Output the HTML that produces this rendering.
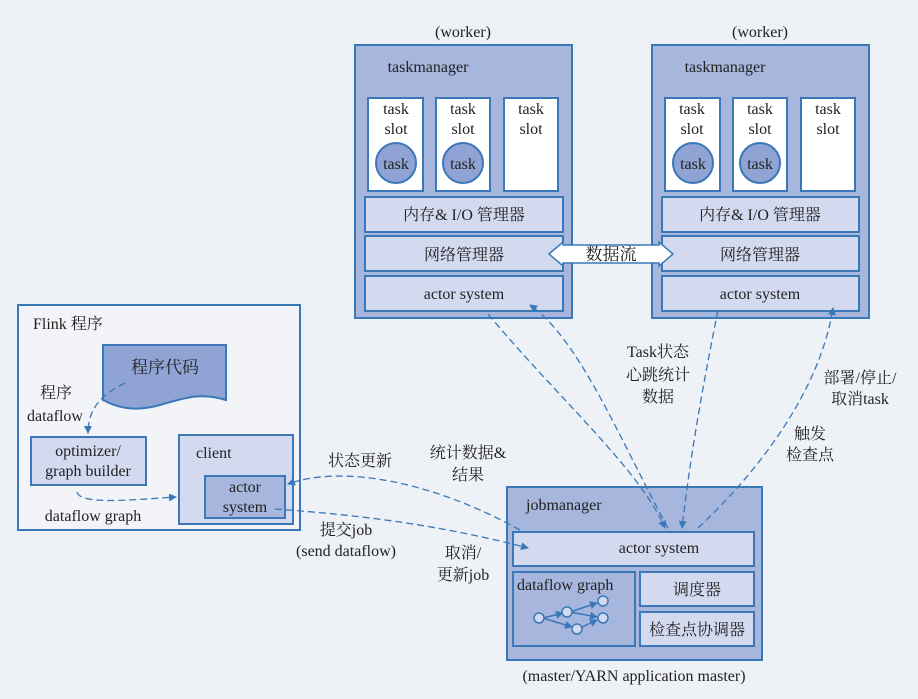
<!DOCTYPE html>
<html><head><meta charset="utf-8"><style>
html,body{margin:0;padding:0;background:#eef1f5;}
text{font-family:"Liberation Serif","Noto Serif CJK SC",serif;fill:#222;}
</style></head><body>
<svg width="918" height="694" viewBox="0 0 918 694" xmlns="http://www.w3.org/2000/svg">
<defs>
<marker id="a" markerWidth="8" markerHeight="8" refX="7" refY="4" orient="auto" markerUnits="userSpaceOnUse"><path d="M0,0 L8,4 L0,8 z" fill="#3a78b8"/></marker>
</defs>
<rect width="918" height="694" fill="#eef1f5"/>
<g stroke="#3a78b8" stroke-width="2">
<rect x="355" y="45" width="217" height="273" fill="#a6b6dc"/>
<rect x="368" y="98" width="55" height="93" fill="#fff"/>
<rect x="436" y="98" width="54" height="93" fill="#fff"/>
<rect x="504" y="98" width="54" height="93" fill="#fff"/>
<circle cx="396" cy="163" r="20" fill="#8fa3d4"/>
<circle cx="463" cy="163" r="20" fill="#8fa3d4"/>
<rect x="365" y="197" width="198" height="35" fill="#d3daf0"/>
<rect x="365" y="236" width="198" height="35" fill="#d3daf0"/>
<rect x="365" y="276" width="198" height="35" fill="#d3daf0"/>
<rect x="652" y="45" width="217" height="273" fill="#a6b6dc"/>
<rect x="665" y="98" width="55" height="93" fill="#fff"/>
<rect x="733" y="98" width="54" height="93" fill="#fff"/>
<rect x="801" y="98" width="54" height="93" fill="#fff"/>
<circle cx="693" cy="163" r="20" fill="#8fa3d4"/>
<circle cx="760" cy="163" r="20" fill="#8fa3d4"/>
<rect x="662" y="197" width="197" height="35" fill="#d3daf0"/>
<rect x="662" y="236" width="197" height="35" fill="#d3daf0"/>
<rect x="662" y="276" width="197" height="35" fill="#d3daf0"/>
<rect x="18" y="305" width="282" height="225" fill="#f2f4f8"/>
<path d="M103,345 H226 V400 C200,392 185,398 160,405 C135,412 118,408 103,400 Z" fill="#8fa3d4"/>
<rect x="31" y="437" width="115" height="48" fill="#d3daf0"/>
<rect x="179" y="435" width="114" height="89" fill="#d3daf0"/>
<rect x="205" y="476" width="80" height="42" fill="#a6b6dc"/>
<rect x="507" y="487" width="255" height="173" fill="#a6b6dc"/>
<rect x="513" y="532" width="241" height="34" fill="#d3daf0"/>
<rect x="513" y="572" width="122" height="74" fill="#a6b6dc"/>
<rect x="640" y="572" width="114" height="34" fill="#d3daf0"/>
<rect x="640" y="612" width="114" height="34" fill="#d3daf0"/>
</g>
<path d="M549,254 L563,242 V245 H659 V242 L673,254 L659,266 V263 H563 V266 Z" fill="#fff" stroke="#3a78b8" stroke-width="1.5"/>
<g stroke="#3a78b8" stroke-width="1.5" fill="#d3daf0">
<line x1="543" y1="618" x2="563" y2="613" marker-end="url(#a)"/>
<line x1="543" y1="618" x2="572" y2="627" marker-end="url(#a)"/>
<line x1="570" y1="612" x2="597" y2="603" marker-end="url(#a)"/>
<line x1="570" y1="612" x2="597" y2="617" marker-end="url(#a)"/>
<line x1="580" y1="628" x2="597" y2="620" marker-end="url(#a)"/>
<circle cx="539" cy="618" r="5"/><circle cx="567" cy="612" r="5"/><circle cx="577" cy="629" r="5"/><circle cx="603" cy="601" r="5"/><circle cx="603" cy="618" r="5"/>
</g>
<g fill="none" stroke="#3a78b8" stroke-width="1.3" stroke-dasharray="7,4" marker-end="url(#a)">
<path d="M125,383 C100,395 88,410 88,433"/>
<path d="M77,492 C80,505 130,500 176,497"/>
<path d="M488,314 C560,400 640,470 665,528"/>
<path d="M668,528 C620,440 580,340 530,305"/>
<path d="M718,310 C700,400 690,460 682,528"/>
<path d="M698,528 C760,470 820,390 833,308"/>
<path d="M520,530 C430,480 340,465 288,484"/>
<path d="M275,509 C360,515 440,525 528,548"/>
</g>
<g font-size="16" text-anchor="middle">
<text x="463" y="37">(worker)</text>
<text x="760" y="37">(worker)</text>
<text x="428" y="72">taskmanager</text>
<text x="725" y="72">taskmanager</text>
<text x="396" y="114">task</text><text x="396" y="134">slot</text>
<text x="463" y="114">task</text><text x="463" y="134">slot</text>
<text x="531" y="114">task</text><text x="531" y="134">slot</text>
<text x="396" y="169">task</text><text x="463" y="169">task</text>
<text x="692" y="114">task</text><text x="692" y="134">slot</text>
<text x="760" y="114">task</text><text x="760" y="134">slot</text>
<text x="828" y="114">task</text><text x="828" y="134">slot</text>
<text x="693" y="169">task</text><text x="760" y="169">task</text>
<text x="464" y="220">内存&amp; I/O 管理器</text>
<text x="464" y="260">网络管理器</text>
<text x="464" y="299">actor system</text>
<text x="760" y="220">内存&amp; I/O 管理器</text>
<text x="760" y="260">网络管理器</text>
<text x="760" y="299">actor system</text>
<text x="611" y="260" font-size="17">数据流</text>
<text x="165" y="373" font-size="17">程序代码</text>
<text x="88" y="456">optimizer/</text>
<text x="88" y="476">graph builder</text>
<text x="245" y="492">actor</text>
<text x="245" y="512">system</text>
<text x="93" y="521">dataflow graph</text>
<text x="659" y="553">actor system</text>
<text x="697" y="595">调度器</text>
<text x="697" y="635">检查点协调器</text>
<text x="634" y="681">(master/YARN application master)</text>
<text x="658" y="357">Task状态</text>
<text x="658" y="380">心跳统计</text>
<text x="658" y="402">数据</text>
<text x="860" y="383">部署/停止/</text>
<text x="860" y="404">取消task</text>
<text x="810" y="439">触发</text>
<text x="810" y="460">检查点</text>
<text x="468" y="458">统计数据&amp;</text>
<text x="468" y="480">结果</text>
<text x="360" y="466">状态更新</text>
<text x="346" y="535">提交job</text>
<text x="346" y="556">(send dataflow)</text>
<text x="463" y="558">取消/</text>
<text x="463" y="580">更新job</text>
</g>
<g font-size="16">
<text x="33" y="329">Flink 程序</text>
<text x="40" y="398">程序</text>
<text x="27" y="421">dataflow</text>
<text x="196" y="458">client</text>
<text x="526" y="510">jobmanager</text>
<text x="517" y="590">dataflow graph</text>
</g>
</svg>
</body></html>
